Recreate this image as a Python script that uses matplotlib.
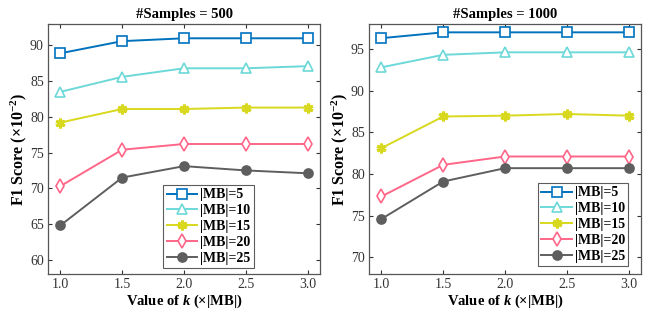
import matplotlib.pyplot as plt

plt.rcParams['font.family'] = 'Liberation Serif'
plt.rcParams['mathtext.fontset'] = 'custom'
plt.rcParams['mathtext.rm'] = 'Liberation Serif'
plt.rcParams['mathtext.it'] = 'Liberation Serif:italic'
plt.rcParams['mathtext.bf'] = 'Liberation Serif:bold'
plt.rcParams['mathtext.bfit'] = 'Liberation Serif:italic:bold'

k_values = [1.0, 1.5, 2.0, 2.5, 3.0]
labels = ['|MB|=5', '|MB|=10', '|MB|=15', '|MB|=20', '|MB|=25']
colors = ['#0072BD', '#6DD8D8', '#D8D81E', '#FF6688', '#5E5E5E']
markers = ['s', '^', (6, 2, 0), 'd', 'o']

# samples = 500
f1_500 = [
    [88.9, 90.6, 91.0, 91.0, 91.0],
    [83.5, 85.6, 86.8, 86.8, 87.1],
    [79.2, 81.1, 81.1, 81.3, 81.3],
    [70.3, 75.4, 76.2, 76.2, 76.2],
    [64.8, 71.5, 73.1, 72.5, 72.1],
]
# samples = 1000
f1_1000 = [
    [96.3, 97.0, 97.0, 97.0, 97.0],
    [92.8, 94.3, 94.6, 94.6, 94.6],
    [83.1, 86.9, 87.0, 87.2, 87.0],
    [77.3, 81.1, 82.1, 82.1, 82.1],
    [74.6, 79.1, 80.7, 80.7, 80.7],
]

fig = plt.figure(figsize=(6.49, 3.2), dpi=100)
ax1 = fig.add_axes([48 / 649, 46 / 320, 272 / 649, 250 / 320])
ax2 = fig.add_axes([369 / 649, 46 / 320, 272 / 649, 250 / 320])

panels = [
    (ax1, f1_500, '#Samples = 500', (58, 93), [60, 65, 70, 75, 80, 85, 90],
     (0.423, 0.024)),
    (ax2, f1_1000, '#Samples = 1000', (68, 98), [70, 75, 80, 85, 90, 95],
     (0.621, 0.032)),
]

for ax, data, title, ylim, yticks, legpos in panels:
    for vals, lab, c, m in zip(data, labels, colors, markers):
        filled = m == 'o'
        ax.plot(k_values, vals, color=c, marker=m,
                markersize=7 if m != 'o' else 6.5, label=lab,
                linewidth=1.4, markerfacecolor=c if filled else 'white',
                markeredgewidth=2.2 if m == (6, 2, 0) else 1.2)
    ax.set_xlim(0.9, 3.1)
    ax.set_ylim(*ylim)
    ax.set_xticks(k_values)
    ax.set_xticklabels(['1.0', '1.5', '2.0', '2.5', '3.0'])
    ax.set_yticks(yticks)
    ax.tick_params(direction='in', top=True, right=True, length=3,
                   labelsize=10, colors='#333333', width=0.8, pad=3)
    for sp in ax.spines.values():
        sp.set_color('#555555')
        sp.set_linewidth(0.9)
    ax.set_title(title, fontsize=10.5, fontweight='bold', pad=4)
    ax.set_xlabel(r'Value of $\mathbfit{k}$ (×|MB|)', fontsize=10.5,
                  fontweight='bold', labelpad=1)
    ax.set_ylabel(r'F1 Score ($\mathbf{\times 10^{-2}}$)', fontsize=11.5,
                  fontweight='bold', labelpad=1)
    leg = ax.legend(loc='lower left', bbox_to_anchor=legpos,
                    prop={'weight': 'bold', 'size': 10},
                    frameon=True, fancybox=False, handlelength=2.2,
                    handletextpad=0.2, borderpad=0.25, labelspacing=0.2,
                    borderaxespad=0)
    leg.get_frame().set_edgecolor('#333333')
    leg.get_frame().set_linewidth(0.8)

fig.savefig('out.png', dpi=100)
